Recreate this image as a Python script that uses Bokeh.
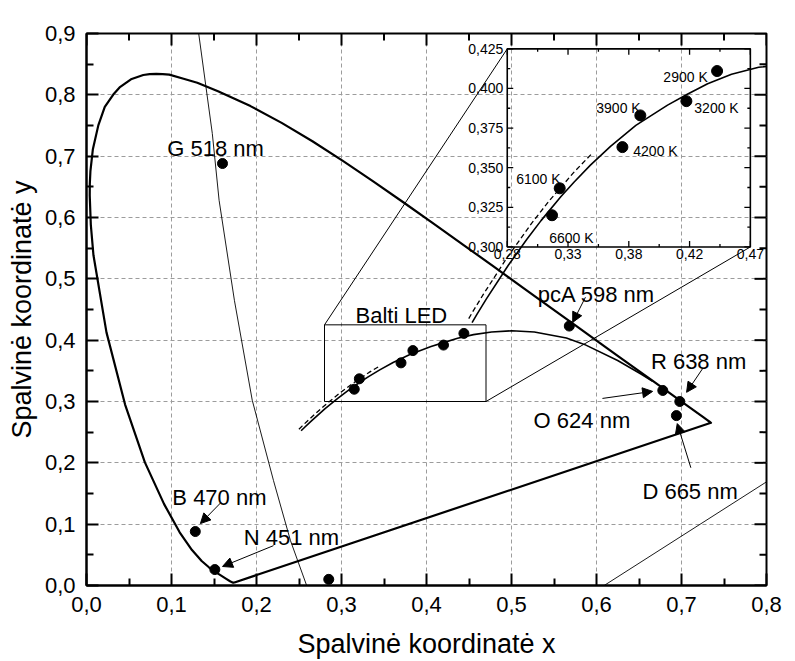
import math
from bokeh.plotting import figure
from bokeh.models import (Range1d, FixedTicker, Arrow, NormalHead, ColumnDataSource)
from bokeh.core.properties import value
from bokeh.embed import file_html
from bokeh.resources import INLINE

FONT = "Liberation Sans"

# ---------------- data ----------------
# spectral locus (CIE 1931), 380 nm ... 700 nm
locus_x = [0.1741, 0.1738, 0.1733, 0.1726, 0.1714, 0.1689, 0.1644, 0.1566, 0.1510,
           0.1440, 0.1355, 0.1241, 0.1096, 0.0913, 0.0687, 0.0454, 0.0235, 0.0082,
           0.0051, 0.0038, 0.0039, 0.0046, 0.0075, 0.0139, 0.0215, 0.0315, 0.0389,
           0.0523, 0.0668, 0.0743, 0.0820, 0.0896, 0.0974, 0.1142, 0.1303, 0.1547,
           0.1929, 0.2296, 0.2658, 0.3016, 0.3373, 0.3731, 0.4087, 0.4441, 0.4788,
           0.5125, 0.5448, 0.5752, 0.6029, 0.6270, 0.6658, 0.6915, 0.7079, 0.7190,
           0.7260, 0.7300, 0.7334, 0.7347]
locus_y = [0.0050, 0.0049, 0.0048, 0.0048, 0.0051, 0.0069, 0.0109, 0.0177, 0.0227,
           0.0297, 0.0399, 0.0578, 0.0868, 0.1327, 0.2007, 0.2950, 0.4127, 0.5384,
           0.5878, 0.6358, 0.6548, 0.6755, 0.7114, 0.7502, 0.7803, 0.8004, 0.8120,
           0.8253, 0.8323, 0.8338, 0.8342, 0.8339, 0.8329, 0.8262, 0.8198, 0.8059,
           0.7816, 0.7543, 0.7243, 0.6923, 0.6589, 0.6245, 0.5896, 0.5547, 0.5202,
           0.4866, 0.4544, 0.4242, 0.3965, 0.3725, 0.3340, 0.3083, 0.2920, 0.2809,
           0.2740, 0.2700, 0.2666, 0.2653]

# Planck (black-body) locus
planck_x = [0.2525, 0.2564, 0.2637, 0.2807, 0.2952, 0.3064, 0.3220, 0.3323, 0.3450,
            0.3607, 0.3805, 0.4053, 0.4200, 0.4366, 0.4553, 0.4765, 0.5003, 0.5269,
            0.5646, 0.5857, 0.6249, 0.6528, 0.6660]
planck_y = [0.2523, 0.2576, 0.2672, 0.2883, 0.3047, 0.3166, 0.3318, 0.3410, 0.3516,
            0.3635, 0.3767, 0.3895, 0.3960, 0.4030, 0.4090, 0.4134, 0.4153, 0.4133,
            0.4034, 0.3931, 0.3669, 0.3444, 0.3330]

# daylight locus (dashed)
daylight_x = [0.2499, 0.2539, 0.2614, 0.2788, 0.2990, 0.3127, 0.3324, 0.3457]
daylight_y = [0.2548, 0.2603, 0.2702, 0.2920, 0.3149, 0.3290, 0.3474, 0.3585]

# white LEDs
led_x = [0.315, 0.321, 0.370, 0.384, 0.420, 0.444]
led_y = [0.320, 0.337, 0.363, 0.383, 0.392, 0.411]
led_labels = ["6600 K", "6100 K", "4200 K", "3900 K", "3200 K", "2900 K"]

# coloured LEDs
src_names = ["G 518 nm", "B 470 nm", "N 451 nm", "pcA 598 nm", "O 624 nm", "R 638 nm", "D 665 nm"]
src_x = [0.160, 0.128, 0.151, 0.568, 0.678, 0.698, 0.694]
src_y = [0.688, 0.088, 0.026, 0.423, 0.318, 0.300, 0.277]

other_x = [0.285]
other_y = [0.010]

# stray thin lines seen in the picture
overlay_curve_x = [0.132, 0.148, 0.156, 0.174, 0.195, 0.220, 0.240, 0.259]
overlay_curve_y = [0.900, 0.737, 0.628, 0.465, 0.302, 0.171, 0.073, 0.000]
overlay_line_x = [0.609, 0.800]
overlay_line_y = [0.000, 0.169]

# ticks
x_ticks = [0.0, 0.1, 0.2, 0.3, 0.4, 0.5, 0.6, 0.7, 0.8]
x_tick_labels = ["0,0", "0,1", "0,2", "0,3", "0,4", "0,5", "0,6", "0,7", "0,8"]
y_ticks = [0.0, 0.1, 0.2, 0.3, 0.4, 0.5, 0.6, 0.7, 0.8, 0.9]
y_tick_labels = ["0,0", "0,1", "0,2", "0,3", "0,4", "0,5", "0,6", "0,7", "0,8", "0,9"]

inset_x_range = [0.28, 0.47]
inset_y_range = [0.300, 0.425]
inset_x_ticks = [0.28, 0.3275, 0.375, 0.4225, 0.47]
inset_x_tick_labels = ["0,28", "0,33", "0,38", "0,42", "0,47"]
inset_y_ticks = [0.300, 0.325, 0.350, 0.375, 0.400, 0.425]
inset_y_tick_labels = ["0,300", "0,325", "0,350", "0,375", "0,400", "0,425"]

x_title = "Spalvinė koordinatė x"
y_title = "Spalvinė koordinatė y"

# ---------------- layout (positions) ----------------
X0, X1, Y0, Y1 = 0.0, 0.8, 0.0, 0.9
inset_box_x = [0.495, 0.781]   # where the inset sits, in main coordinates
inset_box_y = [0.552, 0.875]

src_label_x = [0.095, 0.101, 0.185, 0.531, 0.526, 0.664, 0.654]
src_label_y = [0.713, 0.144, 0.078, 0.475, 0.269, 0.365, 0.153]
arrow_x0 = [0.158, 0.220, 0.587, 0.607, 0.725, 0.711]
arrow_y0 = [0.135, 0.065, 0.470, 0.305, 0.354, 0.192]
arrow_x1 = [0.134, 0.160, 0.572, 0.666, 0.706, 0.695]
arrow_y1 = [0.101, 0.031, 0.429, 0.3165, 0.315, 0.264]

led_label_x = [0.3128, 0.287, 0.3785, 0.3496, 0.4262, 0.402]
led_label_y = [0.3055, 0.343, 0.3608, 0.3875, 0.3875, 0.4072]

# ---------------- figure ----------------
p = figure(width=795, height=661, x_range=Range1d(X0, X1), y_range=Range1d(Y0, Y1),
           output_backend="svg", toolbar_location=None,
           min_border_left=86, min_border_right=29, min_border_top=33, min_border_bottom=76)
p.background_fill_color = "white"
p.border_fill_color = "white"
p.outline_line_color = "black"
p.outline_line_width = 2

# inset ranges mapped onto the same frame
sx = (inset_box_x[1] - inset_box_x[0]) / (inset_x_range[1] - inset_x_range[0])
sy = (inset_box_y[1] - inset_box_y[0]) / (inset_y_range[1] - inset_y_range[0])
ix_start = inset_x_range[0] - (inset_box_x[0] - X0) / sx
ix_end = inset_x_range[1] + (X1 - inset_box_x[1]) / sx
iy_start = inset_y_range[0] - (inset_box_y[0] - Y0) / sy
iy_end = inset_y_range[1] + (Y1 - inset_box_y[1]) / sy
p.extra_x_ranges = {"inset": Range1d(ix_start, ix_end)}
p.extra_y_ranges = {"inset": Range1d(iy_start, iy_end)}

x_minor = [(a + b) / 2 for a, b in zip(x_ticks[:-1], x_ticks[1:])]
y_minor = [(a + b) / 2 for a, b in zip(y_ticks[:-1], y_ticks[1:])]
p.xaxis.ticker = FixedTicker(ticks=x_ticks, minor_ticks=x_minor)
p.yaxis.ticker = FixedTicker(ticks=y_ticks, minor_ticks=y_minor)

for ax in list(p.xaxis) + list(p.yaxis):
    ax.axis_line_width = 2
    ax.axis_line_color = "black"
    ax.major_tick_in = 12
    ax.major_tick_out = 0
    ax.minor_tick_in = 7
    ax.minor_tick_out = 0
    ax.major_tick_line_width = 2
    ax.minor_tick_line_width = 2
    ax.major_label_text_font = FONT
    ax.major_label_text_font_size = "22px"
    ax.major_label_text_color = "black"
    ax.major_label_standoff = 11
    ax.axis_label_text_font = FONT
    ax.axis_label_text_font_size = "27px"
    ax.axis_label_text_font_style = "normal"
    ax.axis_label_text_color = "black"

p.xaxis.major_label_overrides = dict(zip(x_ticks, x_tick_labels))
p.yaxis.major_label_overrides = dict(zip(y_ticks, y_tick_labels))
p.xaxis.axis_label = x_title
p.yaxis.axis_label = y_title
p.xaxis.axis_label_standoff = 14
p.yaxis.axis_label_standoff = 5

p.grid.grid_line_color = "#9c9c9c"
p.grid.grid_line_dash = "4 3"
p.grid.grid_line_width = 1

# mirrored ticks on the top and right edges of the frame
for ticks, ln in ((x_ticks, 12), (x_minor, 7)):
    p.ray(x=ticks, y=[Y1] * len(ticks), length=ln, length_units="screen",
          angle=-math.pi / 2, line_color="black", line_width=2)
for ticks, ln in ((y_ticks, 12), (y_minor, 7)):
    p.ray(x=[X1] * len(ticks), y=ticks, length=ln, length_units="screen",
          angle=math.pi, line_color="black", line_width=2)

# stray thin lines
p.line(overlay_curve_x, overlay_curve_y, line_color="black", line_width=0.9)
p.line(overlay_line_x, overlay_line_y, line_color="black", line_width=0.9)

# spectral locus + purple line
p.line(locus_x + [locus_x[0]], locus_y + [locus_y[0]], line_color="black", line_width=2.2,
       line_join="round")

# Planck and daylight loci
p.line(planck_x, planck_y, line_color="black", line_width=1.6)
p.line(daylight_x, daylight_y, line_color="black", line_width=1.3, line_dash="5 3")

# Balti LED box and connectors to the inset
p.quad(left=[inset_x_range[0]], right=[inset_x_range[1]], bottom=[inset_y_range[0]],
       top=[inset_y_range[1]], fill_color=None, line_color="black", line_width=1)
p.segment(x0=[inset_x_range[0], inset_x_range[1]], y0=[inset_y_range[1], inset_y_range[0]],
          x1=[inset_box_x[0], inset_box_x[1]], y1=[inset_box_y[1], inset_box_y[0]],
          line_color="black", line_width=1)
p.text(x=[0.3165], y=[0.4405], text=["Balti LED"], text_font=value(FONT),
       text_font_size="22px", text_align="left", text_baseline="alphabetic", text_color="black")

# points
p.scatter(led_x, led_y, size=10, color="black")
p.scatter(src_x, src_y, size=10, color="black")
p.scatter(other_x, other_y, size=10, color="black")

p.text(x=src_label_x, y=src_label_y, text=src_names, text_font=value(FONT),
       text_font_size="22px", text_align="left", text_baseline="alphabetic", text_color="black")

arr_src = ColumnDataSource(dict(x0=arrow_x0, y0=arrow_y0, x1=arrow_x1, y1=arrow_y1))
p.add_layout(Arrow(end=NormalHead(size=10, fill_color="black", line_color="black", line_width=1),
                   x_start="x0", y_start="y0", x_end="x1", y_end="y1", source=arr_src,
                   line_color="black", line_width=1))

# ---------------- inset ----------------
I = dict(x_range_name="inset", y_range_name="inset")
p.quad(left=[inset_x_range[0]], right=[inset_x_range[1]], bottom=[inset_y_range[0]],
       top=[inset_y_range[1]], fill_color=None, line_color="black", line_width=1.6, **I)
p.line(planck_x, planck_y, line_color="black", line_width=1.6, **I)
p.line(daylight_x, daylight_y, line_color="black", line_width=1.3, line_dash="5 3", **I)
p.scatter(led_x, led_y, size=11, color="black", **I)
p.text(x=led_label_x, y=led_label_y, text=led_labels, text_font=value(FONT),
       text_font_size="14px", text_align="left", text_baseline="alphabetic",
       text_color="black", **I)

ix_minor = [(a + b) / 2 for a, b in zip(inset_x_ticks[:-1], inset_x_ticks[1:])]
iy_minor = [(a + b) / 2 for a, b in zip(inset_y_ticks[:-1], inset_y_ticks[1:])]
for ticks, ln in ((inset_x_ticks, 6), (ix_minor, 3)):
    n = len(ticks)
    p.ray(x=ticks, y=[inset_y_range[0]] * n, length=ln, length_units="screen",
          angle=math.pi / 2, line_color="black", line_width=1.3, **I)
    p.ray(x=ticks, y=[inset_y_range[1]] * n, length=ln, length_units="screen",
          angle=-math.pi / 2, line_color="black", line_width=1.3, **I)
for ticks, ln in ((inset_y_ticks, 6), (iy_minor, 3)):
    n = len(ticks)
    p.ray(x=[inset_x_range[0]] * n, y=ticks, length=ln, length_units="screen",
          angle=0, line_color="black", line_width=1.3, **I)
    p.ray(x=[inset_x_range[1]] * n, y=ticks, length=ln, length_units="screen",
          angle=math.pi, line_color="black", line_width=1.3, **I)

p.text(x=inset_x_ticks, y=[inset_y_range[0]] * len(inset_x_ticks), text=inset_x_tick_labels,
       text_font=value(FONT), text_font_size="14px", text_align="center", text_baseline="top",
       y_offset=2, text_color="black", **I)
p.text(x=[inset_x_range[0]] * len(inset_y_ticks), y=inset_y_ticks, text=inset_y_tick_labels,
       text_font=value(FONT), text_font_size="14px", text_align="right", text_baseline="middle",
       x_offset=-4, text_color="black", **I)

open("out.html", "w").write(file_html(p, INLINE))
